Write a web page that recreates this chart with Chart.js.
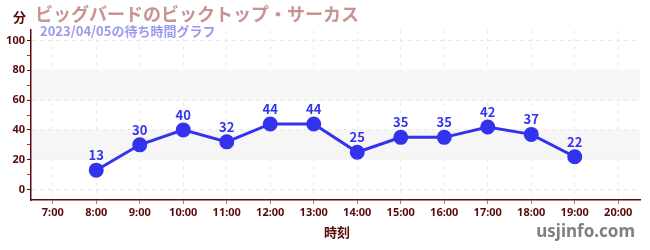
<!DOCTYPE html>
<html>
<head>
<meta charset="utf-8">
<script src="https://cdn.jsdelivr.net/npm/chart.js@4/dist/chart.umd.min.js"></script>
<style>
  html, body { margin: 0; padding: 0; background: #fff; }
  #wrap { width: 650px; height: 250px; }
</style>
</head>
<body>
<div id="wrap"><canvas id="waitChart"></canvas></div>
<script>
// ===============================
// Data
// ===============================
const hours = [8, 9, 10, 11, 12, 13, 14, 15, 16, 17, 18, 19];
const waitMinutes = [13, 30, 40, 32, 44, 44, 25, 35, 35, 42, 37, 22];
const hourTicks = [7, 8, 9, 10, 11, 12, 13, 14, 15, 16, 17, 18, 19, 20];
const minuteTicks = [0, 10, 20, 30, 40, 50, 60, 70, 80, 90, 100];
const bands = [[20, 40], [60, 80]];

const titleText = 'ビッグバードのビックトップ・サーカス';
const subTitleText = '2023/04/05の待ち時間グラフ';

const maroon = '#5a0a0a';
const blue = '#3333ee';

// ===============================
// Plugin: bands, labels, texts
// ===============================
const decor = {
  id: 'decor',
  beforeDatasetsDraw(chart) {
    const { ctx, chartArea, scales } = chart;
    ctx.save();
    ctx.fillStyle = '#f6f6f6';
    bands.forEach(([a, b]) => {
      const y1 = scales.y.getPixelForValue(b);
      const y2 = scales.y.getPixelForValue(a);
      ctx.fillRect(chartArea.left + 1, y1, chartArea.right - chartArea.left - 1, y2 - y1);
    });
    ctx.restore();
  },
  afterDraw(chart) {
    const { ctx, scales } = chart;
    ctx.save();
    // value labels
    ctx.fillStyle = blue;
    ctx.font = 'bold 13px "Noto Sans CJK JP", "Noto Sans", sans-serif';
    ctx.textAlign = 'center';
    ctx.textBaseline = 'alphabetic';
    hours.forEach((h, i) => {
      const x = scales.x.getPixelForValue(h);
      const y = scales.y.getPixelForValue(waitMinutes[i]);
      ctx.fillText(String(waitMinutes[i]), x, y - 10);
    });

    // titles
    ctx.textAlign = 'left';
    ctx.textBaseline = 'middle';
    ctx.fillStyle = maroon;
    ctx.font = 'bold 13px "Noto Sans CJK JP", sans-serif';
    ctx.fillText('分', 13, 17);
    ctx.fillStyle = '#c99393';
    ctx.font = 'bold 18px "Noto Sans CJK JP", sans-serif';
    ctx.fillText(titleText, 35, 14);
    ctx.fillStyle = '#9a9af0';
    ctx.font = 'bold 13px "Noto Sans CJK JP", sans-serif';
    ctx.fillText(subTitleText, 40, 31);

    // axis title + site
    ctx.fillStyle = maroon;
    ctx.font = 'bold 13px "Noto Sans CJK JP", sans-serif';
    ctx.textAlign = 'center';
    ctx.fillText('時刻', 337, 232);
    ctx.fillStyle = '#808080';
    ctx.font = 'bold 17px "Noto Sans", sans-serif';
    ctx.textAlign = 'right';
    ctx.fillText('usjinfo.com', 635, 232);
    ctx.restore();
  }
};

// ===============================
// Chart
// ===============================
new Chart(document.getElementById('waitChart'), {
  type: 'line',
  data: {
    datasets: [{
      data: hours.map((h, i) => ({ x: h, y: waitMinutes[i] })),
      borderColor: blue,
      backgroundColor: blue,
      borderWidth: 3,
      pointRadius: 6,
      pointHoverRadius: 6,
      tension: 0
    }]
  },
  options: {
    responsive: true,
    maintainAspectRatio: false,
    animation: false,
    events: [],
    layout: { padding: { top: 30, right: 10, left: 0, bottom: 0 } },
    plugins: { legend: { display: false }, tooltip: { enabled: false } },
    scales: {
      x: {
        type: 'linear',
        min: 6.5,
        max: 20.5,
        afterBuildTicks: s => { s.ticks = hourTicks.map(v => ({ value: v })); },
        afterFit: s => { s.height = 50; },
        ticks: {
          color: maroon,
          font: { size: 11, weight: 'bold', family: '"Noto Sans", sans-serif' },
          padding: 2,
          maxRotation: 0,
          callback: v => v + ':00'
        },
        grid: {
          color: '#ebebeb',
          tickColor: '#888',
          tickLength: 4,
          tickBorderDash: []
        },
        border: { color: maroon, width: 1.5, dash: [4, 4] }
      },
      y: {
        min: -7,
        max: 107,
        afterBuildTicks: s => { s.ticks = minuteTicks.map(v => ({ value: v })); },
        afterFit: s => { s.width = 31; },
        ticks: {
          color: maroon,
          font: { size: 11, weight: 'bold', family: '"Noto Sans", sans-serif' },
          padding: 2,
          callback: v => (v % 20 === 0 ? v : '')
        },
        grid: {
          color: c => (c.tick && c.tick.value % 20 === 0 ? '#e6e6e6' : 'rgba(0,0,0,0)'),
          tickColor: c => (c.tick && c.tick.value % 20 === 0 ? '#222' : '#dd2222'),
          tickLength: 4,
          tickBorderDash: []
        },
        border: { color: maroon, width: 1.5, dash: [4, 4] }
      }
    }
  },
  plugins: [decor]
});
</script>
</body>
</html>
